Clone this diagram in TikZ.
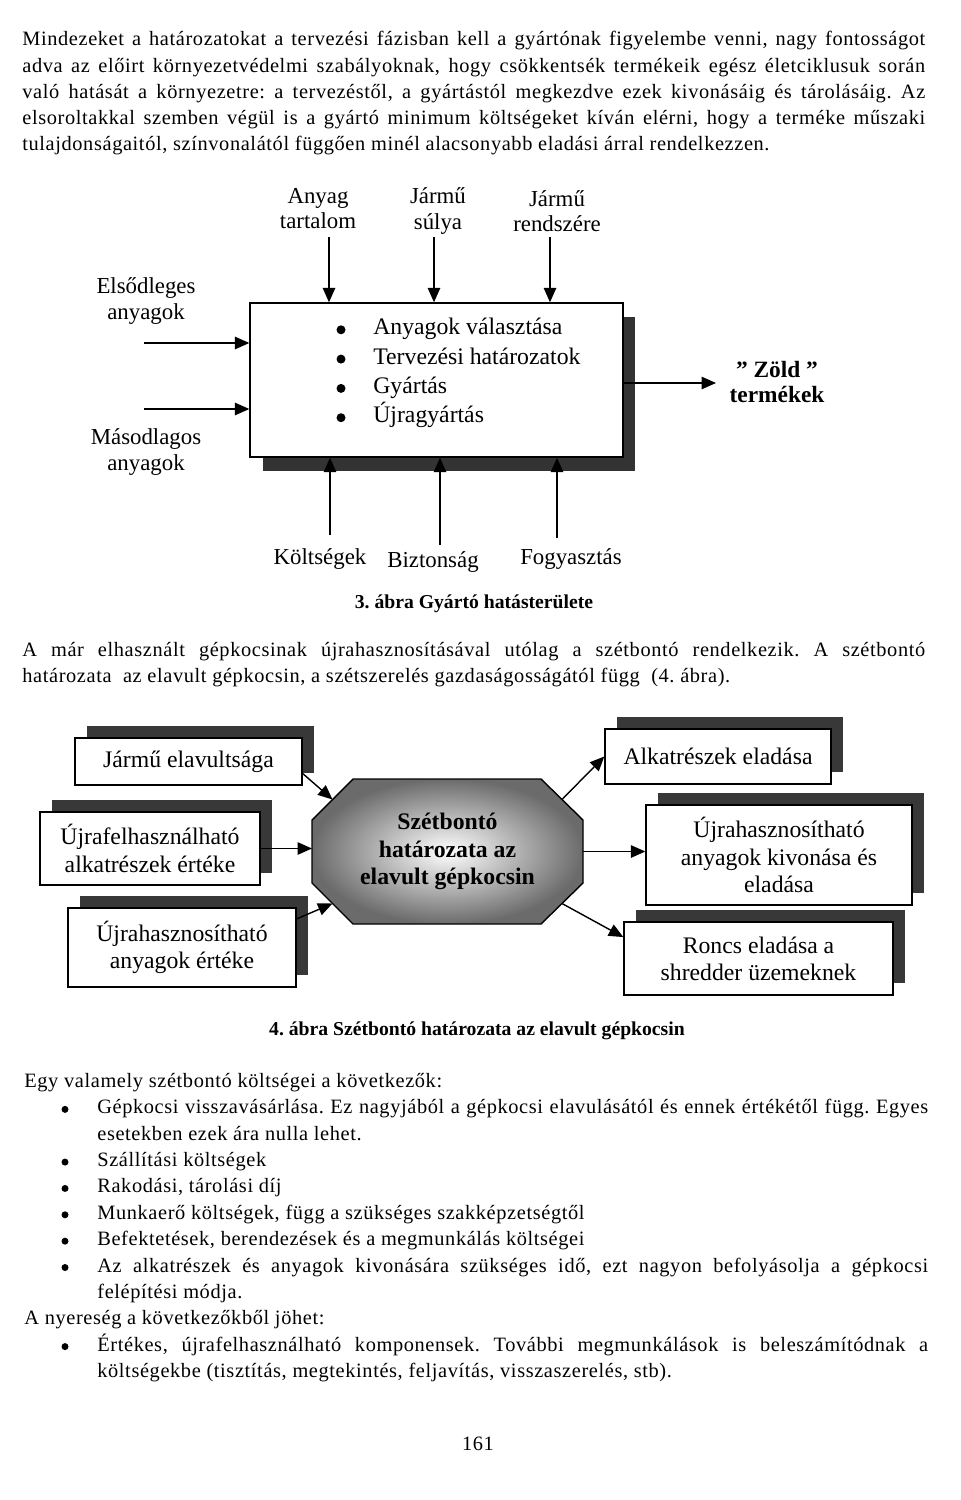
\documentclass[tikz,border=0pt]{standalone}
\usepackage{fontspec}
\setmainfont{Liberation Serif}
\newfontfamily\szoveg[LetterSpace=3]{Liberation Serif}
\usepackage{tikz}
\usetikzlibrary{arrows.meta,shadows,positioning}
\frenchspacing

% justified line of given width
\newcommand{\tele}[2]{\makebox[#1][s]{#2}}
% equal line height in the labels
\newcommand{\tam}{\rule[-3.5pt]{0pt}{11pt}}

\begin{document}
\begin{tikzpicture}[x=0.02cm, y=-0.02cm,
    sor/.style={anchor=base west, inner sep=0pt, font=\szoveg\fontsize{11.6}{15}\selectfont},
    cimke/.style={align=center, inner sep=1pt, font=\fontsize{13}{14.5}\selectfont},
    nyil/.style={line width=0.8pt, -{Triangle[length=2.9mm,width=2.5mm]}},
    pont/.style={circle, fill=black, inner sep=0pt, minimum size=0.14cm},
    doboz/.style={draw, fill=white, line width=0.8pt, align=center, inner sep=2pt,
        font=\fontsize{13.5}{15.5}\selectfont,
        general shadow={fill=black!78, shadow xshift=0.24cm, shadow yshift=0.24cm}},
    abra/.style={inner sep=0pt, font=\bfseries\fontsize{11.2}{13}\selectfont}]

\fill[white] (0,0) rectangle (960,1500);
\useasboundingbox (0,0) rectangle (960,1500);

% bevezeto bekezdes
\node[sor] (e1) at (22,46) {\tele{18.06cm}{Mindezeket a határozatokat a tervezési fázisban kell a gyártónak figyelembe venni, nagy fontosságot}};
\node[sor] (e2) at (22,72.3) {\tele{18.06cm}{adva az előirt környezetvédelmi szabályoknak, hogy csökkentsék termékeik egész életciklusuk során}};
\node[sor] (e3) at (22,98.5) {\tele{18.06cm}{való hatását a környezetre: a tervezéstől, a gyártástól megkezdve ezek kivonásáig és tárolásáig. Az}};
\node[sor] (e4) at (22,124.6) {\tele{18.06cm}{elsoroltakkal szemben végül is a gyártó minimum költségeket kíván elérni, hogy a terméke műszaki}};
\node[sor] (e5) at (22,150.8) {tulajdonságaitól, színvonalától függően minél alacsonyabb eladási árral rendelkezzen.};

% 3. abra
\node[draw, fill=white, line width=0.8pt, minimum width=7.46cm, minimum height=3.08cm,
    general shadow={fill=black!80, shadow xshift=0.25cm, shadow yshift=-0.28cm}] (gyarto) at (436.5,380) {};
\foreach \t [count=\i] in {Anyagok választása, Tervezési határozatok, Gyártás, Újragyártás}{
    \node[pont, minimum size=0.18cm] (gp\i) at (341,300.5+29.3*\i) {};
    \node[cimke, anchor=base west, inner sep=0pt, font=\fontsize{13.5}{15}\selectfont] (gt\i) at (373,305.5+29.3*\i) {\t};
}

\node[cimke] (anyag) at (318,211.5) {\tam Anyag\\\tam tartalom};
\node[cimke] (suly) at (438,211.5) {\tam Jármű\\\tam súlya};
\node[cimke] (rendszer) at (557,214) {\tam Jármű\\\tam rendszére};
\foreach \x [count=\i] in {329,434,550}{
    \coordinate (f\i) at (\x,237);
    \draw[nyil] (f\i) -- (f\i |- gyarto.north);
}

\node[cimke] (elso) at (146,301.5) {\tam Elsődleges\\\tam anyagok};
\node[cimke] (masod) at (146,452.5) {\tam Másodlagos\\\tam anyagok};
\coordinate (b1) at (144,343);
\coordinate (b2) at (144,409);
\draw[nyil] (b1) -- (b1 -| gyarto.west);
\draw[nyil] (b2) -- (b2 -| gyarto.west);

\node[cimke, font=\bfseries\fontsize{13.3}{14.5}\selectfont] (zold) at (777,385) {\tam ” Zöld ”\\\tam termékek};
\coordinate (ki) at (716,383);
\draw[nyil] (gyarto.east |- ki) -- (ki);

\node[cimke] (koltseg) at (320,560) {\tam Költségek};
\node[cimke] (bizt) at (433,563) {\tam Biztonság};
\node[cimke] (fogy) at (571,560) {\tam Fogyasztás};
\foreach \x/\y [count=\i] in {330/535, 440/545, 557/538}{
    \coordinate (a\i) at (\x,\y);
    \draw[nyil] (a\i) -- (a\i |- gyarto.south);
}

\node[abra] (abra3) at (474,604) {3. ábra Gyártó hatásterülete};

\node[sor] (m1) at (22,656.5) {\tele{18.06cm}{A már elhasznált gépkocsinak újrahasznosításával utólag a szétbontó rendelkezik. A szétbontó}};
\node[sor] (m2) at (22,682.5) {határozata\ \ az elavult gépkocsin, a szétszerelés gazdaságosságától függ\ \ (4. ábra).};

% 4. abra
\node[doboz, minimum width=4.54cm, minimum height=0.94cm] (avult) at (188.5,761.5) {Jármű elavultsága};
\node[doboz, minimum width=4.4cm, minimum height=1.46cm] (ujrafel) at (150,848.5) {Újrafelhasználható\\alkatrészek értéke};
\node[doboz, minimum width=4.56cm, minimum height=1.58cm] (anyert) at (182,947.5) {Újrahasznosítható\\anyagok értéke};
\node[doboz, minimum width=4.52cm, minimum height=1.1cm] (alkel) at (718,756.5) {Alkatrészek eladása};
\node[doboz, minimum width=5.32cm, minimum height=2.0cm] (kivon) at (779,855) {Újrahasznosítható\\anyagok kivonása és\\eladása};
\node[doboz, minimum width=5.38cm, minimum height=1.46cm] (roncs) at (758.5,958.5) {Roncs eladása a\\shredder üzemeknek};

% nyolcszog
\shade[draw, line width=0.8pt, inner color=white, outer color=black!58]
    (353,779) -- (541,779) -- (583,820) -- (583,883) -- (541,924) -- (353,924) -- (312,883) -- (312,820) -- cycle;
\node[align=center, font=\bfseries\fontsize{13.5}{15.5}\selectfont] (szet) at (447.5,851.5) {Szétbontó\\határozata az\\elavult gépkocsin};
\coordinate (szbf) at (332.5,799.5);
\coordinate (szba) at (332.5,903.5);
\coordinate (szjf) at (562,799.5);
\coordinate (szja) at (562,903.5);
\coordinate (szb) at (312,848.5);
\coordinate (szj) at (583,851.5);

\draw[nyil] (avult.-6) -- (szbf);
\draw[nyil] (ujrafel.east) -- (szb);
\draw[nyil] (anyert.14) -- (szba);
\draw[nyil] (szjf) -- (alkel.west);
\draw[nyil] (szj) -- (szj -| kivon.west);
\draw[nyil] (szja) -- (roncs.171);

\node[abra] (abra4) at (477,1031) {4. ábra Szétbontó határozata az elavult gépkocsin};

% koltsegek, nyereseg
\foreach \x/\t [count=\k from 0] in {
    24/{Egy valamely szétbontó költségei a következők:},
    97/{\tele{16.62cm}{Gépkocsi visszavásárlása. Ez nagyjából a gépkocsi elavulásától és ennek értékétől függ. Egyes}},
    97/{esetekben ezek ára nulla lehet.},
    97/{Szállítási költségek},
    97/{Rakodási, tárolási díj},
    97/{Munkaerő költségek, függ a szükséges szakképzetségtől},
    97/{Befektetések, berendezések és a megmunkálás költségei},
    97/{\tele{16.62cm}{Az alkatrészek és anyagok kivonására szükséges idő, ezt nagyon befolyásolja a gépkocsi}},
    97/{felépítési módja.},
    24/{A nyereség a következőkből jöhet:},
    97/{\tele{16.62cm}{Értékes, újrafelhasználható komponensek. További megmunkálások is beleszámítódnak a}},
    97/{költségekbe (tisztítás, megtekintés, feljavítás, visszaszerelés, stb).}}
    \node[sor] (k\k) at (\x,1087.5+26.36*\k) {\t};
\foreach \k in {1,3,4,5,6,7,10}
    \node[pont] (pt\k) at (65,1083+26.36*\k) {};

\node[sor, anchor=base] (oldal) at (478,1450) {161};
\end{tikzpicture}
\end{document}
